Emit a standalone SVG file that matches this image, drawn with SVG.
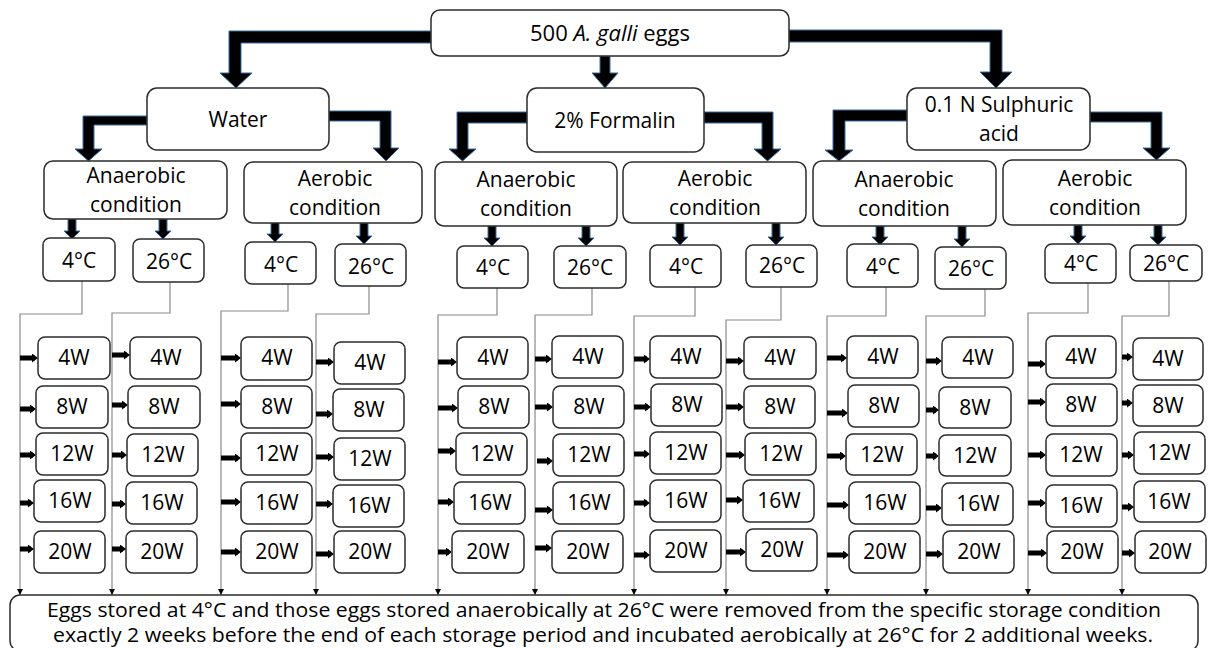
<svg xmlns="http://www.w3.org/2000/svg" width="1214" height="648" viewBox="0 0 1214 648">
<style>
.b{fill:#fff;stroke:#2b2b2b;stroke-width:1.5}
.t{font-family:"Open Sans","Liberation Sans",sans-serif;font-size:21px;fill:#000;text-anchor:middle}
.s{font-size:20px}
.l{font-size:22px}
.big{fill:#000;stroke:#3a6ea5;stroke-width:1}
.thin{fill:none;stroke:#8a8a8a;stroke-width:1.2}
.wk{stroke:#000;stroke-width:5}
</style>
<defs>
<marker id="ah" viewBox="0 0 6 6" refX="6" refY="3" markerWidth="6" markerHeight="6" markerUnits="userSpaceOnUse" orient="auto"><path d="M0,0 L6,3 L0,6 Z" fill="#000"/></marker>
<marker id="wa" viewBox="0 0 6 9" refX="3" refY="4.5" markerWidth="6" markerHeight="9" markerUnits="userSpaceOnUse" orient="auto"><path d="M0,0 L6,4.5 L0,9 Z" fill="#000"/></marker>
</defs>

<g id="connectors">
<path class="big" d="M431,31 L229,31 L229,73 L220,73 L236,88 L252,73 L241,73 L241,43 L431,43 Z"/>
<path class="big" d="M600,56 L610,56 L610,73 L618,73 L605,88 L592,73 L600,73 Z"/>
<path class="big" d="M789,30 L1002,30 L1002,72 L1012,72 L996,88 L980,72 L990,72 L990,42 L789,42 Z"/>
<path class="big" d="M147,116 L83,116 L83,149 L75,149 L88.5,161 L102,149 L94,149 L94,125 L147,125 Z"/>
<path class="big" d="M329,111 L391,111 L391,148 L399,148 L386,161 L373,148 L380,148 L380,121 L329,121 Z"/>
<path class="big" d="M527,112 L457,112 L457,149 L449,149 L462.5,161 L476,149 L468,149 L468,123 L527,123 Z"/>
<path class="big" d="M704,112 L773,112 L773,149 L781,149 L767.5,161 L754,149 L762,149 L762,123 L704,123 Z"/>
<path class="big" d="M907,110 L833,110 L833,150 L825,150 L839,161 L853,150 L845,150 L845,121 L907,121 Z"/>
<path class="big" d="M1090,112 L1162,112 L1162,148 L1170,148 L1156.5,160 L1143,148 L1151,148 L1151,122 L1090,122 Z"/>
<path class="big" d="M68,219 L76,219 L76,231 L80,231 L72,239 L64,231 L68,231 Z"/>
<path class="big" d="M159,219 L167,219 L167,231 L171,231 L163,239 L155,231 L159,231 Z"/>
<path class="big" d="M271,222 L279,222 L279,234 L283,234 L275,242 L267,234 L271,234 Z"/>
<path class="big" d="M360,223 L368,223 L368,236 L372,236 L364,244 L356,236 L360,236 Z"/>
<path class="big" d="M488,226 L496,226 L496,238 L500,238 L492,246 L484,238 L488,238 Z"/>
<path class="big" d="M582,226 L590,226 L590,238 L594,238 L586,246 L578,238 L582,238 Z"/>
<path class="big" d="M676,223 L684,223 L684,237 L688,237 L680,245 L672,237 L676,237 Z"/>
<path class="big" d="M772,223 L780,223 L780,237 L784,237 L776,245 L768,237 L772,237 Z"/>
<path class="big" d="M876,226 L884,226 L884,237 L888,237 L880,245 L872,237 L876,237 Z"/>
<path class="big" d="M958,226 L966,226 L966,239 L970,239 L962,247 L954,239 L958,239 Z"/>
<path class="big" d="M1074,225 L1082,225 L1082,236 L1086,236 L1078,244 L1070,236 L1074,236 Z"/>
<path class="big" d="M1154,225 L1162,225 L1162,237 L1166,237 L1158,245 L1150,237 L1154,237 Z"/>
<path class="thin" d="M82,281 V314 H20 V595" marker-end="url(#ah)"/>
<path class="thin" d="M170,282 V313 H112 V595" marker-end="url(#ah)"/>
<path class="thin" d="M288,284 V311 H221 V595" marker-end="url(#ah)"/>
<path class="thin" d="M369,286 V314 H316 V595" marker-end="url(#ah)"/>
<path class="thin" d="M497,288 V315 H438 V595" marker-end="url(#ah)"/>
<path class="thin" d="M592,288 V315 H535 V595" marker-end="url(#ah)"/>
<path class="thin" d="M695,287 V316 H634 V595" marker-end="url(#ah)"/>
<path class="thin" d="M781,287 V320 H726 V595" marker-end="url(#ah)"/>
<path class="thin" d="M886,287 V316 H827 V595" marker-end="url(#ah)"/>
<path class="thin" d="M985,289 V316 H926 V595" marker-end="url(#ah)"/>
<path class="thin" d="M1088,283 V313 H1028 V595" marker-end="url(#ah)"/>
<path class="thin" d="M1169,281 V316 H1122 V595" marker-end="url(#ah)"/>
<g class="wk" marker-end="url(#wa)">
<line x1="20" y1="358" x2="35" y2="358"/><line x1="20" y1="409" x2="33" y2="409"/><line x1="20" y1="455" x2="33" y2="455"/><line x1="20" y1="503" x2="31" y2="503"/><line x1="20" y1="549" x2="31" y2="549"/>
<line x1="112" y1="355" x2="127" y2="355"/><line x1="112" y1="405" x2="125" y2="405"/><line x1="112" y1="455" x2="124" y2="455"/><line x1="112" y1="504" x2="123" y2="504"/><line x1="112" y1="549" x2="123" y2="549"/>
<line x1="221" y1="358" x2="238" y2="358"/><line x1="221" y1="404" x2="238" y2="404"/><line x1="221" y1="458" x2="238" y2="458"/><line x1="221" y1="502" x2="238" y2="502"/><line x1="221" y1="552" x2="238" y2="552"/>
<line x1="316" y1="362" x2="331" y2="362"/><line x1="316" y1="414" x2="330" y2="414"/><line x1="316" y1="457" x2="331" y2="457"/><line x1="316" y1="504" x2="330" y2="504"/><line x1="316" y1="554" x2="331" y2="554"/>
<line x1="438" y1="362" x2="454" y2="362"/><line x1="438" y1="408" x2="455" y2="408"/><line x1="438" y1="451" x2="453" y2="451"/><line x1="438" y1="502" x2="451" y2="502"/><line x1="438" y1="552" x2="449" y2="552"/>
<line x1="535" y1="359" x2="549" y2="359"/><line x1="535" y1="407" x2="550" y2="407"/><line x1="537" y1="461" x2="550" y2="461"/><line x1="535" y1="510" x2="550" y2="510"/><line x1="535" y1="548" x2="549" y2="548"/>
<line x1="634" y1="359" x2="647" y2="359"/><line x1="634" y1="407" x2="648" y2="407"/><line x1="634" y1="454" x2="647" y2="454"/><line x1="634" y1="503" x2="647" y2="503"/><line x1="634" y1="555" x2="647" y2="555"/>
<line x1="726" y1="361" x2="741" y2="361"/><line x1="726" y1="407" x2="741" y2="407"/><line x1="726" y1="455" x2="742" y2="455"/><line x1="726" y1="500" x2="740" y2="500"/><line x1="726" y1="552" x2="743" y2="552"/>
<line x1="827" y1="358" x2="844" y2="358"/><line x1="827" y1="413" x2="845" y2="413"/><line x1="827" y1="456" x2="843" y2="456"/><line x1="827" y1="505" x2="846" y2="505"/><line x1="827" y1="555" x2="846" y2="555"/>
<line x1="926" y1="361" x2="939" y2="361"/><line x1="926" y1="410" x2="936" y2="410"/><line x1="926" y1="456" x2="936" y2="456"/><line x1="926" y1="508" x2="939" y2="508"/><line x1="926" y1="554" x2="940" y2="554"/>
<line x1="1028" y1="364" x2="1043" y2="364"/><line x1="1028" y1="402" x2="1043" y2="402"/><line x1="1028" y1="455" x2="1043" y2="455"/><line x1="1028" y1="503" x2="1043" y2="503"/><line x1="1028" y1="553" x2="1044" y2="553"/>
<line x1="1122" y1="357" x2="1130" y2="357"/><line x1="1122" y1="403" x2="1130" y2="403"/><line x1="1122" y1="455" x2="1131" y2="455"/><line x1="1122" y1="507" x2="1131" y2="507"/><line x1="1122" y1="553" x2="1132" y2="553"/>
</g>
</g>

<g id="n-eggs"><rect class="b" x="431" y="10" width="358" height="46" rx="9"/><text class="t l" x="610" y="41">500 <tspan font-style="italic">A. galli</tspan> eggs</text></g>

<g id="n-water"><rect class="b" x="147" y="88" width="182" height="62" rx="10"/><text class="t" x="238" y="127">Water</text></g>
<g id="n-formalin"><rect class="b" x="527" y="88" width="177" height="64" rx="10"/><text class="t" x="615" y="128">2% Formalin</text></g>
<g id="n-sulph"><rect class="b" x="907" y="88" width="183" height="62" rx="10"/><text class="t" x="999" y="112">0.1 N Sulphuric</text><text class="t" x="999" y="141">acid</text></g>

<g id="n-w-an"><rect class="b" x="44" y="161" width="183" height="58" rx="9"/><text class="t" x="136" y="183">Anaerobic</text><text class="t" x="136" y="212">condition</text></g>
<g id="n-w-ae"><rect class="b" x="244" y="162" width="178" height="61" rx="9"/><text class="t" x="335" y="186">Aerobic</text><text class="t" x="335" y="215">condition</text></g>
<g id="n-f-an"><rect class="b" x="435" y="162" width="182" height="64" rx="9"/><text class="t" x="526" y="187">Anaerobic</text><text class="t" x="526" y="216">condition</text></g>
<g id="n-f-ae"><rect class="b" x="623" y="162" width="183" height="61" rx="9"/><text class="t" x="715" y="186">Aerobic</text><text class="t" x="715" y="215">condition</text></g>
<g id="n-s-an"><rect class="b" x="813" y="161" width="183" height="65" rx="9"/><text class="t" x="904" y="187">Anaerobic</text><text class="t" x="904" y="216">condition</text></g>
<g id="n-s-ae"><rect class="b" x="1003" y="160" width="183" height="65" rx="9"/><text class="t" x="1095" y="186">Aerobic</text><text class="t" x="1095" y="215">condition</text></g>

<g id="n-t1"><rect class="b" x="43" y="238" width="72" height="43" rx="7"/><text class="t" x="79" y="268">4°C</text></g>
<g id="n-t2"><rect class="b" x="133" y="239" width="71" height="43" rx="7"/><text class="t" x="169" y="269">26°C</text></g>
<g id="n-t3"><rect class="b" x="245" y="242" width="71" height="42" rx="7"/><text class="t" x="281" y="272">4°C</text></g>
<g id="n-t4"><rect class="b" x="335" y="244" width="71" height="42" rx="7"/><text class="t" x="371" y="274">26°C</text></g>
<g id="n-t5"><rect class="b" x="457" y="246" width="71" height="42" rx="7"/><text class="t" x="493" y="275">4°C</text></g>
<g id="n-t6"><rect class="b" x="554" y="246" width="72" height="42" rx="7"/><text class="t" x="590" y="275">26°C</text></g>
<g id="n-t7"><rect class="b" x="650" y="245" width="71" height="42" rx="7"/><text class="t" x="686" y="274">4°C</text></g>
<g id="n-t8"><rect class="b" x="746" y="245" width="71" height="42" rx="7"/><text class="t" x="782" y="273">26°C</text></g>
<g id="n-t9"><rect class="b" x="847" y="244" width="71" height="43" rx="7"/><text class="t" x="883" y="274">4°C</text></g>
<g id="n-t10"><rect class="b" x="935" y="247" width="71" height="42" rx="7"/><text class="t" x="971" y="276">26°C</text></g>
<g id="n-t11"><rect class="b" x="1045" y="244" width="71" height="39" rx="7"/><text class="t" x="1081" y="271">4°C</text></g>
<g id="n-t12"><rect class="b" x="1130" y="245" width="72" height="36" rx="7"/><text class="t" x="1166" y="271">26°C</text></g>

<g id="col1">
<g id="w1-4"><rect class="b" x="38" y="337" width="72" height="42" rx="7"/><text class="t" x="74" y="365">4W</text></g>
<g id="w1-8"><rect class="b" x="36" y="386" width="72" height="42" rx="7"/><text class="t" x="72" y="414">8W</text></g>
<g id="w1-12"><rect class="b" x="36" y="433" width="72" height="42" rx="7"/><text class="t" x="72" y="461">12W</text></g>
<g id="w1-16"><rect class="b" x="34" y="480" width="71" height="42" rx="7"/><text class="t" x="70" y="508">16W</text></g>
<g id="w1-20"><rect class="b" x="34" y="531" width="71" height="42" rx="7"/><text class="t" x="70" y="559">20W</text></g>
</g>
<g id="col2">
<g id="w2-4"><rect class="b" x="130" y="337" width="71" height="42" rx="7"/><text class="t" x="166" y="365">4W</text></g>
<g id="w2-8"><rect class="b" x="128" y="386" width="72" height="42" rx="7"/><text class="t" x="164" y="414">8W</text></g>
<g id="w2-12"><rect class="b" x="127" y="434" width="71" height="42" rx="7"/><text class="t" x="163" y="462">12W</text></g>
<g id="w2-16"><rect class="b" x="126" y="482" width="71" height="42" rx="7"/><text class="t" x="162" y="510">16W</text></g>
<g id="w2-20"><rect class="b" x="126" y="531" width="71" height="42" rx="7"/><text class="t" x="162" y="559">20W</text></g>
</g>
<g id="col3">
<g id="w3-4"><rect class="b" x="241" y="337" width="71" height="43" rx="7"/><text class="t" x="277" y="365">4W</text></g>
<g id="w3-8"><rect class="b" x="241" y="386" width="71" height="42" rx="7"/><text class="t" x="277" y="414">8W</text></g>
<g id="w3-12"><rect class="b" x="241" y="433" width="71" height="42" rx="7"/><text class="t" x="277" y="461">12W</text></g>
<g id="w3-16"><rect class="b" x="241" y="482" width="71" height="42" rx="7"/><text class="t" x="277" y="510">16W</text></g>
<g id="w3-20"><rect class="b" x="241" y="531" width="71" height="42" rx="7"/><text class="t" x="277" y="559">20W</text></g>
</g>
<g id="col4">
<g id="w4-4"><rect class="b" x="334" y="342" width="71" height="42" rx="7"/><text class="t" x="370" y="370">4W</text></g>
<g id="w4-8"><rect class="b" x="333" y="389" width="71" height="42" rx="7"/><text class="t" x="369" y="417">8W</text></g>
<g id="w4-12"><rect class="b" x="334" y="438" width="71" height="42" rx="7"/><text class="t" x="370" y="466">12W</text></g>
<g id="w4-16"><rect class="b" x="333" y="485" width="71" height="42" rx="7"/><text class="t" x="369" y="513">16W</text></g>
<g id="w4-20"><rect class="b" x="334" y="531" width="71" height="42" rx="7"/><text class="t" x="370" y="559">20W</text></g>
</g>
<g id="col5">
<g id="w5-4"><rect class="b" x="457" y="337" width="71" height="42" rx="7"/><text class="t" x="493" y="365">4W</text></g>
<g id="w5-8"><rect class="b" x="458" y="386" width="71" height="42" rx="7"/><text class="t" x="494" y="414">8W</text></g>
<g id="w5-12"><rect class="b" x="456" y="433" width="71" height="42" rx="7"/><text class="t" x="492" y="461">12W</text></g>
<g id="w5-16"><rect class="b" x="454" y="482" width="71" height="42" rx="7"/><text class="t" x="490" y="510">16W</text></g>
<g id="w5-20"><rect class="b" x="452" y="531" width="72" height="42" rx="7"/><text class="t" x="488" y="559">20W</text></g>
</g>
<g id="col6">
<g id="w6-4"><rect class="b" x="552" y="336" width="71" height="42" rx="7"/><text class="t" x="588" y="364">4W</text></g>
<g id="w6-8"><rect class="b" x="553" y="386" width="71" height="42" rx="7"/><text class="t" x="589" y="414">8W</text></g>
<g id="w6-12"><rect class="b" x="553" y="434" width="71" height="42" rx="7"/><text class="t" x="589" y="462">12W</text></g>
<g id="w6-16"><rect class="b" x="553" y="482" width="71" height="42" rx="7"/><text class="t" x="589" y="510">16W</text></g>
<g id="w6-20"><rect class="b" x="552" y="531" width="71" height="42" rx="7"/><text class="t" x="588" y="559">20W</text></g>
</g>
<g id="col7">
<g id="w7-4"><rect class="b" x="650" y="336" width="71" height="42" rx="7"/><text class="t" x="686" y="364">4W</text></g>
<g id="w7-8"><rect class="b" x="651" y="384" width="71" height="42" rx="7"/><text class="t" x="687" y="412">8W</text></g>
<g id="w7-12"><rect class="b" x="650" y="432" width="71" height="42" rx="7"/><text class="t" x="686" y="460">12W</text></g>
<g id="w7-16"><rect class="b" x="650" y="480" width="71" height="42" rx="7"/><text class="t" x="686" y="508">16W</text></g>
<g id="w7-20"><rect class="b" x="650" y="530" width="71" height="42" rx="7"/><text class="t" x="686" y="558">20W</text></g>
</g>
<g id="col8">
<g id="w8-4"><rect class="b" x="744" y="337" width="72" height="42" rx="7"/><text class="t" x="780" y="365">4W</text></g>
<g id="w8-8"><rect class="b" x="744" y="386" width="71" height="42" rx="7"/><text class="t" x="780" y="414">8W</text></g>
<g id="w8-12"><rect class="b" x="745" y="433" width="71" height="42" rx="7"/><text class="t" x="781" y="461">12W</text></g>
<g id="w8-16"><rect class="b" x="743" y="480" width="71" height="42" rx="7"/><text class="t" x="779" y="508">16W</text></g>
<g id="w8-20"><rect class="b" x="746" y="529" width="71" height="42" rx="7"/><text class="t" x="782" y="557">20W</text></g>
</g>
<g id="col9">
<g id="w9-4"><rect class="b" x="847" y="336" width="71" height="42" rx="7"/><text class="t" x="883" y="364">4W</text></g>
<g id="w9-8"><rect class="b" x="848" y="385" width="71" height="42" rx="7"/><text class="t" x="884" y="413">8W</text></g>
<g id="w9-12"><rect class="b" x="846" y="434" width="71" height="41" rx="7"/><text class="t" x="882" y="462">12W</text></g>
<g id="w9-16"><rect class="b" x="849" y="482" width="71" height="42" rx="7"/><text class="t" x="885" y="510">16W</text></g>
<g id="w9-20"><rect class="b" x="849" y="531" width="71" height="42" rx="7"/><text class="t" x="885" y="559">20W</text></g>
</g>
<g id="col10">
<g id="w10-4"><rect class="b" x="942" y="337" width="71" height="41" rx="7"/><text class="t" x="978" y="365">4W</text></g>
<g id="w10-8"><rect class="b" x="939" y="387" width="72" height="41" rx="7"/><text class="t" x="975" y="415">8W</text></g>
<g id="w10-12"><rect class="b" x="939" y="435" width="72" height="41" rx="7"/><text class="t" x="975" y="463">12W</text></g>
<g id="w10-16"><rect class="b" x="942" y="483" width="71" height="42" rx="7"/><text class="t" x="978" y="511">16W</text></g>
<g id="w10-20"><rect class="b" x="943" y="531" width="71" height="42" rx="7"/><text class="t" x="979" y="559">20W</text></g>
</g>
<g id="col11">
<g id="w11-4"><rect class="b" x="1046" y="336" width="70" height="42" rx="7"/><text class="t" x="1081" y="364">4W</text></g>
<g id="w11-8"><rect class="b" x="1046" y="384" width="71" height="42" rx="7"/><text class="t" x="1081" y="412">8W</text></g>
<g id="w11-12"><rect class="b" x="1046" y="434" width="71" height="42" rx="7"/><text class="t" x="1081" y="462">12W</text></g>
<g id="w11-16"><rect class="b" x="1046" y="485" width="71" height="42" rx="7"/><text class="t" x="1081" y="513">16W</text></g>
<g id="w11-20"><rect class="b" x="1047" y="531" width="71" height="42" rx="7"/><text class="t" x="1082" y="559">20W</text></g>
</g>
<g id="col12">
<g id="w12-4"><rect class="b" x="1133" y="338" width="70" height="42" rx="7"/><text class="t" x="1168" y="366">4W</text></g>
<g id="w12-8"><rect class="b" x="1133" y="385" width="70" height="41" rx="7"/><text class="t" x="1168" y="413">8W</text></g>
<g id="w12-12"><rect class="b" x="1134" y="432" width="71" height="42" rx="7"/><text class="t" x="1169" y="460">12W</text></g>
<g id="w12-16"><rect class="b" x="1134" y="481" width="71" height="41" rx="7"/><text class="t" x="1169" y="509">16W</text></g>
<g id="w12-20"><rect class="b" x="1135" y="531" width="71" height="42" rx="7"/><text class="t" x="1170" y="559">20W</text></g>
</g>

<g id="n-note"><rect class="b" x="10" y="595" width="1188" height="56" rx="10"/>
<text class="t s" x="604" y="617" textLength="1114" lengthAdjust="spacingAndGlyphs">Eggs stored at 4°C and those eggs stored anaerobically at 26°C were removed from the specific storage condition</text>
<text class="t s" x="603" y="642" textLength="1100" lengthAdjust="spacingAndGlyphs">exactly 2 weeks before the end of each storage period and incubated aerobically at 26°C for 2 additional weeks.</text>
</g>
</svg>
